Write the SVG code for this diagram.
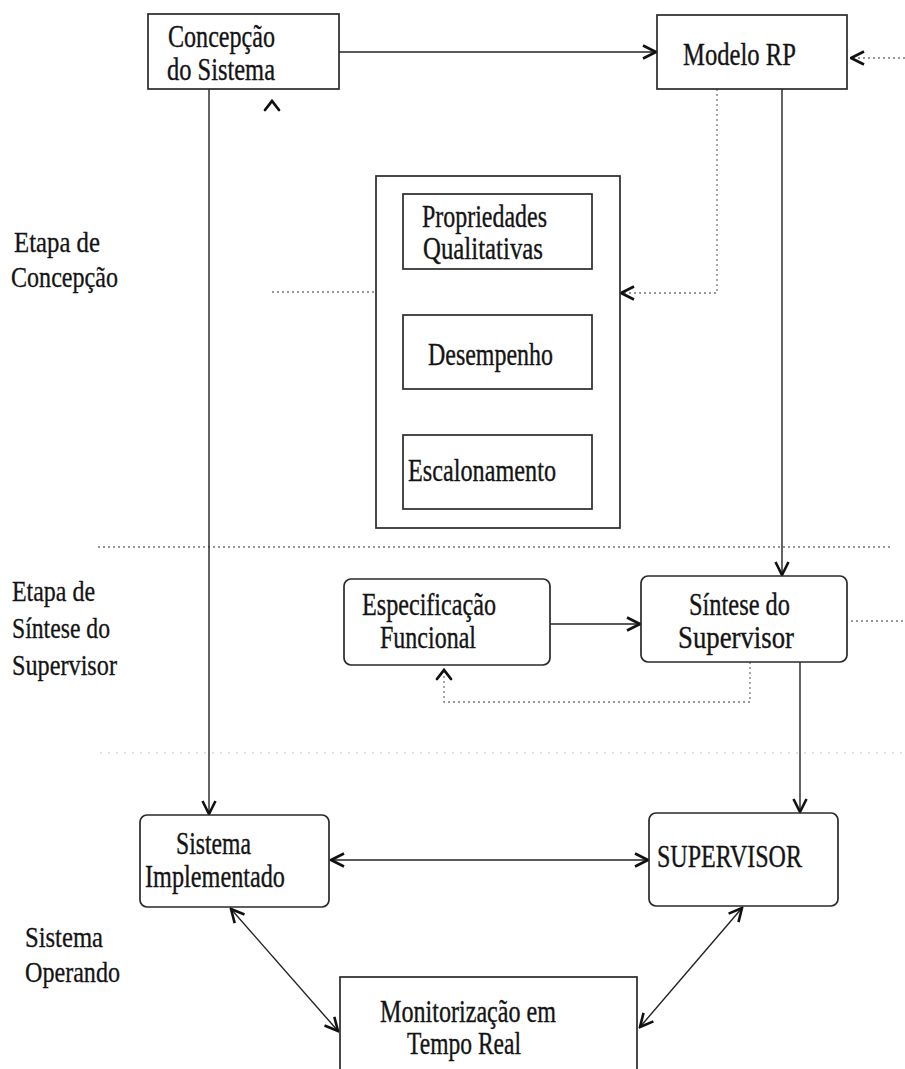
<svg xmlns="http://www.w3.org/2000/svg" width="905" height="1069" viewBox="0 0 905 1069">
  <style>
    .box { fill: #fff; stroke: #2a2a2a; stroke-width: 1.7; }
    .lbl { font-family: "Liberation Serif", "Times New Roman", serif; font-size: 31px; fill: #141414; stroke: #141414; stroke-width: 0.35; }
    .side { font-family: "Liberation Serif", "Times New Roman", serif; font-size: 29px; fill: #141414; stroke: #141414; stroke-width: 0.3; }
    .wire { fill: none; stroke: #222; stroke-width: 1.4; }
    .dot { fill: none; stroke: #777; stroke-width: 1.3; stroke-dasharray: 2 3; }
    .faint { fill: none; stroke: #c4c4c4; stroke-width: 1.2; stroke-dasharray: 2 6; }
    .head { fill: none; stroke: #111; stroke-width: 2.8; stroke-linecap: round; stroke-linejoin: miter; }
  </style>
  <defs>
    <marker id="arrow" viewBox="0 0 16 16" refX="14.5" refY="8" markerWidth="16" markerHeight="16" markerUnits="userSpaceOnUse" orient="auto-start-reverse">
      <path d="M1.5,1.5 L14.5,8 L1.5,14.5" fill="none" stroke="#111" stroke-width="2.6" stroke-linejoin="miter"/>
    </marker>
  </defs>

  <rect width="905" height="1069" fill="#fff"/>

  <!-- stage labels on the left -->
  <g id="stage-concepcao">
    <text class="side" x="14" y="252" textLength="86" lengthAdjust="spacingAndGlyphs">Etapa de</text>
    <text class="side" x="11" y="287" textLength="107" lengthAdjust="spacingAndGlyphs">Concepção</text>
  </g>
  <g id="stage-sintese">
    <text class="side" x="12" y="601" textLength="83" lengthAdjust="spacingAndGlyphs">Etapa de</text>
    <text class="side" x="12" y="638" textLength="98" lengthAdjust="spacingAndGlyphs">Síntese do</text>
    <text class="side" x="12" y="675" textLength="105" lengthAdjust="spacingAndGlyphs">Supervisor</text>
  </g>
  <g id="stage-operando">
    <text class="side" x="25" y="947" textLength="78" lengthAdjust="spacingAndGlyphs">Sistema</text>
    <text class="side" x="25" y="982" textLength="95" lengthAdjust="spacingAndGlyphs">Operando</text>
  </g>

  <!-- connectors -->
  <g id="connectors">
    <!-- stage separators -->
    <path class="dot" d="M98,547 H892"/>
    <path class="faint" d="M100,753 H905"/>

    <!-- Concepção -> Modelo RP -->
    <path class="wire" d="M339,52 H656" marker-end="url(#arrow)"/>
    <!-- external feed into Modelo RP -->
    <path class="dot" d="M905,58 H851" marker-end="url(#arrow)"/>
    <!-- feedback tip under Concepção -->
    <path class="head" d="M265,110 L272,101 L279,110"/>
    <!-- Concepção -> Sistema Implementado -->
    <path class="wire" d="M209,89 V814" marker-end="url(#arrow)"/>
    <!-- Modelo RP -> Síntese do Supervisor -->
    <path class="wire" d="M782,89 V575" marker-end="url(#arrow)"/>
    <!-- Modelo RP -> analysis block (dotted) -->
    <path class="dot" d="M717,89 V293 H621" marker-end="url(#arrow)"/>
    <!-- analysis block -> left (dotted) -->
    <path class="dot" d="M272,292 H376"/>

    <!-- Especificação -> Síntese -->
    <path class="wire" d="M550,624 H640" marker-end="url(#arrow)"/>
    <!-- Síntese external output (dotted) -->
    <path class="dot" d="M851,621 H905"/>
    <!-- Síntese feedback to Especificação (dotted) -->
    <path class="dot" d="M750,662 V702 H444 V670"/>
    <path class="head" d="M437,679 L444,670 L451,679"/>
    <!-- Síntese -> SUPERVISOR -->
    <path class="wire" d="M800,662 V812" marker-end="url(#arrow)"/>

    <!-- operating loop -->
    <path class="wire" d="M331,860 H648" marker-start="url(#arrow)" marker-end="url(#arrow)"/>
    <path class="wire" d="M231,909 L338,1031" marker-start="url(#arrow)" marker-end="url(#arrow)"/>
    <path class="wire" d="M742,908 L640,1027" marker-start="url(#arrow)" marker-end="url(#arrow)"/>
  </g>

  <!-- nodes -->
  <g id="concepcao-sistema">
    <rect class="box" x="148" y="14" width="191" height="75"/>
    <text class="lbl" x="168" y="47" textLength="107" lengthAdjust="spacingAndGlyphs">Concepção</text>
    <text class="lbl" x="167" y="80" textLength="108" lengthAdjust="spacingAndGlyphs">do Sistema</text>
  </g>

  <g id="modelo-rp">
    <rect class="box" x="657" y="15" width="190" height="74"/>
    <text class="lbl" x="683" y="65" textLength="113" lengthAdjust="spacingAndGlyphs">Modelo RP</text>
  </g>

  <g id="analise">
    <rect class="box" x="376" y="176" width="244" height="352"/>
  </g>
  <g id="propriedades-qualitativas">
    <rect class="box" x="403" y="194" width="189" height="75"/>
    <text class="lbl" x="422" y="227" textLength="125" lengthAdjust="spacingAndGlyphs">Propriedades</text>
    <text class="lbl" x="423" y="259" textLength="120" lengthAdjust="spacingAndGlyphs">Qualitativas</text>
  </g>
  <g id="desempenho">
    <rect class="box" x="403" y="315" width="189" height="74"/>
    <text class="lbl" x="428" y="365" textLength="125" lengthAdjust="spacingAndGlyphs">Desempenho</text>
  </g>
  <g id="escalonamento">
    <rect class="box" x="403" y="435" width="189" height="74"/>
    <text class="lbl" x="408" y="481" textLength="148" lengthAdjust="spacingAndGlyphs">Escalonamento</text>
  </g>

  <g id="especificacao-funcional">
    <rect class="box" x="344" y="579" width="206" height="86" rx="7"/>
    <text class="lbl" x="362" y="615" textLength="134" lengthAdjust="spacingAndGlyphs">Especificação</text>
    <text class="lbl" x="380" y="648" textLength="96" lengthAdjust="spacingAndGlyphs">Funcional</text>
  </g>

  <g id="sintese-supervisor">
    <rect class="box" x="641" y="576" width="206" height="86" rx="7"/>
    <text class="lbl" x="689" y="615" textLength="101" lengthAdjust="spacingAndGlyphs">Síntese do</text>
    <text class="lbl" x="678" y="648" textLength="116" lengthAdjust="spacingAndGlyphs">Supervisor</text>
  </g>

  <g id="sistema-implementado">
    <rect class="box" x="140" y="815" width="189" height="92" rx="7"/>
    <text class="lbl" x="176" y="854" textLength="75" lengthAdjust="spacingAndGlyphs">Sistema</text>
    <text class="lbl" x="145" y="887" textLength="140" lengthAdjust="spacingAndGlyphs">Implementado</text>
  </g>

  <g id="supervisor">
    <rect class="box" x="649" y="813" width="189" height="93" rx="7"/>
    <text class="lbl" x="657" y="867" textLength="145" lengthAdjust="spacingAndGlyphs">SUPERVISOR</text>
  </g>

  <g id="monitorizacao">
    <rect class="box" x="340" y="977" width="297" height="100"/>
    <text class="lbl" x="380" y="1022" textLength="176" lengthAdjust="spacingAndGlyphs">Monitorização em</text>
    <text class="lbl" x="407" y="1054" textLength="114" lengthAdjust="spacingAndGlyphs">Tempo Real</text>
  </g>
</svg>
